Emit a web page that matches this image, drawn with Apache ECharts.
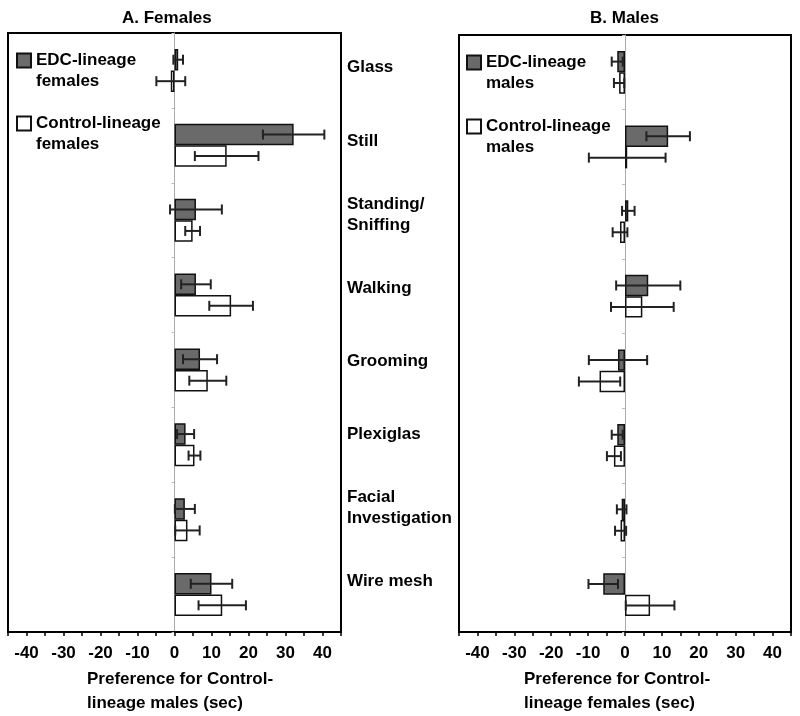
<!DOCTYPE html>
<html>
<head>
<meta charset="utf-8">
<script src="https://cdn.jsdelivr.net/npm/echarts@6/dist/echarts.min.js"></script>
<style>html,body{margin:0;padding:0;background:#fff;}#c{width:800px;height:716px;}</style>
</head>
<body>
<div id="c"></div>
<script>
var categories = ['Glass', 'Still', 'Standing/\nSniffing', 'Walking', 'Grooming', 'Plexiglas', 'Facial\nInvestigation', 'Wire mesh'];
var femEDC = [1.0, 32.2, 5.8, 5.8, 6.9, 3.0, 2.8, 10.0];
var femEDCErr = [1.3, 8.3, 7.0, 4.0, 4.6, 2.3, 2.7, 5.6];
var femCtl = [-1.0, 14.1, 4.9, 15.3, 9.0, 5.4, 3.5, 12.9];
var femCtlErr = [3.9, 8.6, 2.0, 5.9, 5.0, 1.6, 3.3, 6.4];
var maleEDC = [-2.1, 11.7, 0.9, 6.3, -1.9, -2.1, -0.9, -5.9];
var maleEDCErr = [1.5, 5.9, 1.7, 8.7, 7.9, 1.5, 1.3, 4.0];
var maleCtl = [-1.6, 0.6, -1.35, 4.7, -6.9, -3.0, -1.2, 6.8];
var maleCtlErr = [1.4, 10.4, 2.0, 8.5, 5.6, 1.9, 1.5, 6.6];
var xTicks = [-45, 45, 5];

var FONT = 'Liberation Sans, Arial, sans-serif';
var BAR_FRAC = 0.287;
var GRAY = '#6a6a6a';

var chart = echarts.init(document.getElementById('c'), null, {renderer: 'canvas'});

function xAxisFor(gi) {
  return {
    type: 'value', gridIndex: gi, min: xTicks[0], max: xTicks[1], interval: xTicks[2],
    splitLine: {show: false},
    axisLine: {show: true, onZero: false, lineStyle: {color: '#000', width: 2}},
    axisTick: {show: true, length: 4, lineStyle: {color: '#000', width: 1.5}},
    axisLabel: {
      margin: 13, color: '#000', fontFamily: FONT, fontSize: 17, fontWeight: 'bold',
      formatter: function (v) { return v % 10 === 0 ? String(v) : ''; }
    }
  };
}
function yAxisFor(gi) {
  return {
    type: 'category', gridIndex: gi, data: categories, inverse: true,
    axisLine: {show: true, onZero: true, lineStyle: {color: '#aaa', width: 1}},
    axisTick: {show: true, length: 3, lineStyle: {color: '#bbb'}},
    axisLabel: {show: false},
    splitLine: {show: false}
  };
}

function errSeries(name, xi, vals, errs, sign) {
  return {
    type: 'custom', name: name + ' err', xAxisIndex: xi, yAxisIndex: xi, z: 5,
    data: vals.map(function (v, i) { return [v, i, errs[i]]; }),
    renderItem: function (params, api) {
      var v = api.value(0), ci = api.value(1), e = api.value(2);
      var c = api.coord([v, ci]);
      var band = api.size([0, 1])[1];
      var y = c[1] + sign * band * BAR_FRAC / 2;
      var lo = api.coord([v - e, ci])[0];
      var hi = api.coord([v + e, ci])[0];
      var cap = 5;
      var st = {stroke: '#222', lineWidth: 2};
      return {type: 'group', children: [
        {type: 'line', shape: {x1: lo, y1: y, x2: hi, y2: y}, style: st},
        {type: 'line', shape: {x1: lo, y1: y - cap, x2: lo, y2: y + cap}, style: st},
        {type: 'line', shape: {x1: hi, y1: y - cap, x2: hi, y2: y + cap}, style: st}
      ]};
    }
  };
}

function barSeries(name, xi, vals, color) {
  return {
    type: 'bar', name: name, xAxisIndex: xi, yAxisIndex: xi, data: vals,
    barWidth: (BAR_FRAC * 100) + '%', barGap: '0%',
    itemStyle: {color: color, borderColor: '#111', borderWidth: 1.5},
    emphasis: {disabled: true}
  };
}

function legendFor(name, left, top) {
  return {
    data: [name], left: left, top: top, padding: 0, itemWidth: 14, itemHeight: 14,
    selectedMode: false, icon: 'rect', itemGap: 5,
    formatter: function (n) { var k = n.lastIndexOf(' '); return '\n' + n.slice(0, k) + '\n' + n.slice(k + 1); },
    textStyle: {fontFamily: FONT, fontSize: 17, fontWeight: 'bold', color: '#000', lineHeight: 21}
  };
}

var titleStyle = {fontFamily: FONT, fontSize: 17, fontWeight: 'bold', color: '#000', lineHeight: 24};

var option = {
  animation: false,
  backgroundColor: '#fff',
  title: [
    {text: 'A. Females', left: 122, top: 6, padding: 0, textStyle: titleStyle},
    {text: 'B. Males', left: 590, top: 6, padding: 0, textStyle: titleStyle},
    {text: 'Preference for Control-\nlineage males (sec)', left: 87, top: 667, padding: 0, textStyle: titleStyle},
    {text: 'Preference for Control-\nlineage females (sec)', left: 524, top: 667, padding: 0, textStyle: titleStyle}
  ],
  legend: [
    legendFor('EDC-lineage females', 16, 29),
    legendFor('Control-lineage females', 16, 92),
    legendFor('EDC-lineage males', 466, 31),
    legendFor('Control-lineage males', 466, 95)
  ],
  grid: [
    {left: 8, top: 33, width: 333, height: 599, show: true, borderColor: '#000', borderWidth: 2, containLabel: false},
    {left: 459, top: 35, width: 332, height: 597, show: true, borderColor: '#000', borderWidth: 2, containLabel: false},
    {left: 8, top: 31, width: 333, height: 587, show: false, containLabel: false}
  ],
  xAxis: [xAxisFor(0), xAxisFor(1),
    {type: 'value', gridIndex: 2, min: xTicks[0], max: xTicks[1], show: false}
  ],
  yAxis: [
    yAxisFor(0),
    yAxisFor(1),
    {
      type: 'category', gridIndex: 2, data: categories, inverse: true, position: 'right',
      axisLine: {show: false}, axisTick: {show: false}, splitLine: {show: false},
      axisLabel: {show: true, align: 'left', margin: 6, color: '#000', fontFamily: FONT, fontSize: 17,
        fontWeight: 'bold', lineHeight: 21}
    }
  ],
  series: [
    barSeries('EDC-lineage females', 0, femEDC, GRAY),
    barSeries('Control-lineage females', 0, femCtl, '#fff'),
    barSeries('EDC-lineage males', 1, maleEDC, GRAY),
    barSeries('Control-lineage males', 1, maleCtl, '#fff'),
    errSeries('fe', 0, femEDC, femEDCErr, -1),
    errSeries('fc', 0, femCtl, femCtlErr, 1),
    errSeries('me', 1, maleEDC, maleEDCErr, -1),
    errSeries('mc', 1, maleCtl, maleCtlErr, 1)
  ]
};
chart.setOption(option);
</script>
</body>
</html>
